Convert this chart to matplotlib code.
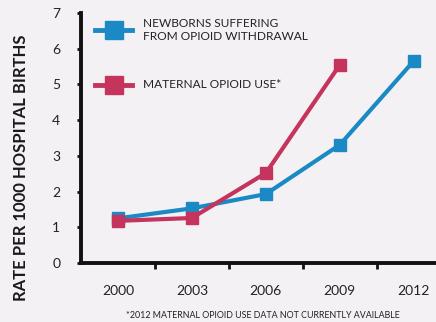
import numpy as np
import matplotlib.pyplot as plt

years = ["2000", "2003", "2006", "2009", "2012"]
newborns = [1.25, 1.53, 1.93, 3.31, 5.66]
maternal = [1.18, 1.26, 2.52, 5.55]   # no 2012 value yet

blue = "#1b8ac4"
red = "#c5345c"
bg = "#f4f1f5"

plt.rcParams['font.family'] = ['Lato', 'DejaVu Sans']

fig = plt.figure(figsize=(4.36, 3.22), dpi=100, facecolor=bg)
ax = fig.add_axes([81/436, 59/322, 1 - 81/436, 250/322], facecolor=bg)

x = np.arange(len(years))
ax.plot(x, newborns, color=blue, lw=3, marker='s', ms=8, zorder=3)
ax.plot(x[:len(maternal)], maternal, color=red, lw=3, marker='s', ms=8, zorder=4)

ax.set_xlim(-0.5, 4.3)
ax.set_ylim(0, 7)

# year labels sit between the tick marks
ax.set_xticks(x)
ax.set_xticklabels(years, fontsize=10, color="#222222")
ax.tick_params(axis='x', which='major', length=0, pad=16)
ax.set_xticks(x[:-1] + 0.5, minor=True)
ax.tick_params(axis='x', which='minor', length=4, width=2, direction='out', color="#111111")

ax.set_yticks(range(8))
ax.tick_params(axis='y', length=3, width=2, direction='out', color="#111111",
               labelsize=10, labelcolor="#222222", pad=12)

for s in ['top', 'right']:
    ax.spines[s].set_visible(False)
for s in ['left', 'bottom']:
    ax.spines[s].set_linewidth(2.8)
    ax.spines[s].set_color("#111111")

fig.text(21/436, 154/322, "RATE PER 1000 HOSPITAL BIRTHS", rotation=90,
         fontsize=12, fontweight='bold', color="#1a1a1a", ha='center', va='center')

# legend drawn by hand
for col, yy in [(blue, 292.5), (red, 237)]:
    ax.plot([95/436, 132/436], [yy/322, yy/322], transform=fig.transFigure,
            color=col, lw=3.5, clip_on=False)
    ax.plot([113.5/436], [yy/322], transform=fig.transFigure, color=col,
            marker='s', ms=13, clip_on=False)
fig.text(143/436, 292/322, "NEWBORNS SUFFERING\nFROM OPIOID WITHDRAWAL",
         fontsize=8.6, color="#222222", va='center', linespacing=1.3)
fig.text(143/436, 238/322, "MATERNAL OPIOID USE*",
         fontsize=8.6, color="#222222", va='center')

fig.text(263/436, 7/322, "*2012 MATERNAL OPIOID USE DATA NOT CURRENTLY AVAILABLE",
         fontsize=6.4, color="#222222", ha='center', va='center')

fig.savefig("out.png", facecolor=bg)
